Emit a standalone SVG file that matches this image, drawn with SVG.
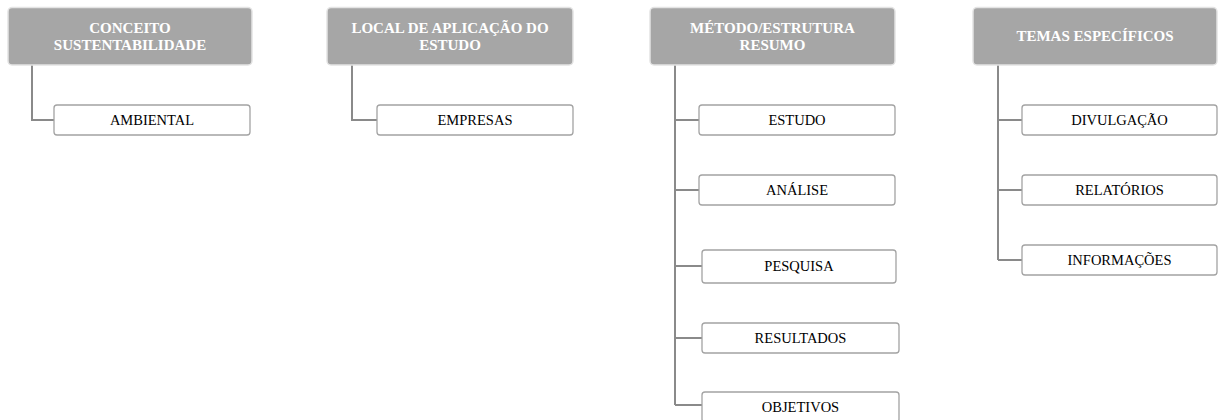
<svg xmlns="http://www.w3.org/2000/svg" width="1218" height="420" viewBox="0 0 1218 420">
<style>
.hdr{fill:#a6a6a6;stroke:#e4e4e4;stroke-width:1.5}
.box{fill:#ffffff;stroke:#a3a3a3;stroke-width:1.3}
.ht{font-family:"Liberation Serif","Times New Roman",serif;font-weight:bold;font-size:15px;fill:#ffffff;text-anchor:middle}
.bt{font-family:"Liberation Serif","Times New Roman",serif;font-size:14.5px;fill:#000000;text-anchor:middle}
.con{fill:none;stroke:#8a8a8a;stroke-width:2}
</style>
<rect width="1218" height="420" fill="#ffffff"/>
<g id="connectors">
<path class="con" d="M32,65 V120 H54"/>
<path class="con" d="M352,65 V120 H377"/>
<path class="con" d="M675,65 V405 M675,120 H699 M675,190 H699 M675,266 H702 M675,338 H702 M675,405 H702"/>
<path class="con" d="M998,65 V260 M998,120 H1022 M998,190 H1022 M998,260 H1022"/>
</g>
<g id="h1"><rect class="hdr" x="8" y="7.5" width="244" height="57.5" rx="4"/><text class="ht" x="130" y="33.3">CONCEITO</text><text class="ht" x="130" y="50">SUSTENTABILIDADE</text></g>
<g id="h2"><rect class="hdr" x="327" y="7.5" width="246" height="57.5" rx="4"/><text class="ht" x="450" y="33.3">LOCAL DE APLICAÇÃO DO</text><text class="ht" x="450" y="50">ESTUDO</text></g>
<g id="h3"><rect class="hdr" x="650" y="7.5" width="245" height="57.5" rx="4"/><text class="ht" x="772.5" y="33.3">MÉTODO/ESTRUTURA</text><text class="ht" x="772.5" y="50">RESUMO</text></g>
<g id="h4"><rect class="hdr" x="973" y="7.5" width="244" height="57.5" rx="4"/><text class="ht" x="1095" y="41">TEMAS ESPECÍFICOS</text></g>
<g id="n-ambiental"><rect class="box" x="54" y="105" width="196" height="30" rx="3"/><text class="bt" x="152" y="125">AMBIENTAL</text></g>
<g id="n-empresas"><rect class="box" x="377" y="105" width="196" height="30" rx="3"/><text class="bt" x="475" y="125">EMPRESAS</text></g>
<g id="n-estudo"><rect class="box" x="699" y="105" width="196" height="30" rx="3"/><text class="bt" x="797" y="125">ESTUDO</text></g>
<g id="n-analise"><rect class="box" x="699" y="175" width="196" height="30" rx="3"/><text class="bt" x="797" y="195">ANÁLISE</text></g>
<g id="n-pesquisa"><rect class="box" x="702" y="250" width="194" height="33" rx="3"/><text class="bt" x="799" y="271">PESQUISA</text></g>
<g id="n-resultados"><rect class="box" x="702" y="323" width="197" height="30" rx="3"/><text class="bt" x="800.5" y="343">RESULTADOS</text></g>
<g id="n-objetivos"><rect class="box" x="702" y="392" width="197" height="30" rx="3"/><text class="bt" x="800.5" y="412">OBJETIVOS</text></g>
<g id="n-divulgacao"><rect class="box" x="1022" y="105" width="195" height="30" rx="3"/><text class="bt" x="1119.5" y="125">DIVULGAÇÃO</text></g>
<g id="n-relatorios"><rect class="box" x="1022" y="175" width="195" height="30" rx="3"/><text class="bt" x="1119.5" y="195">RELATÓRIOS</text></g>
<g id="n-informacoes"><rect class="box" x="1022" y="245" width="195" height="30" rx="3"/><text class="bt" x="1119.5" y="265">INFORMAÇÕES</text></g>
</svg>
